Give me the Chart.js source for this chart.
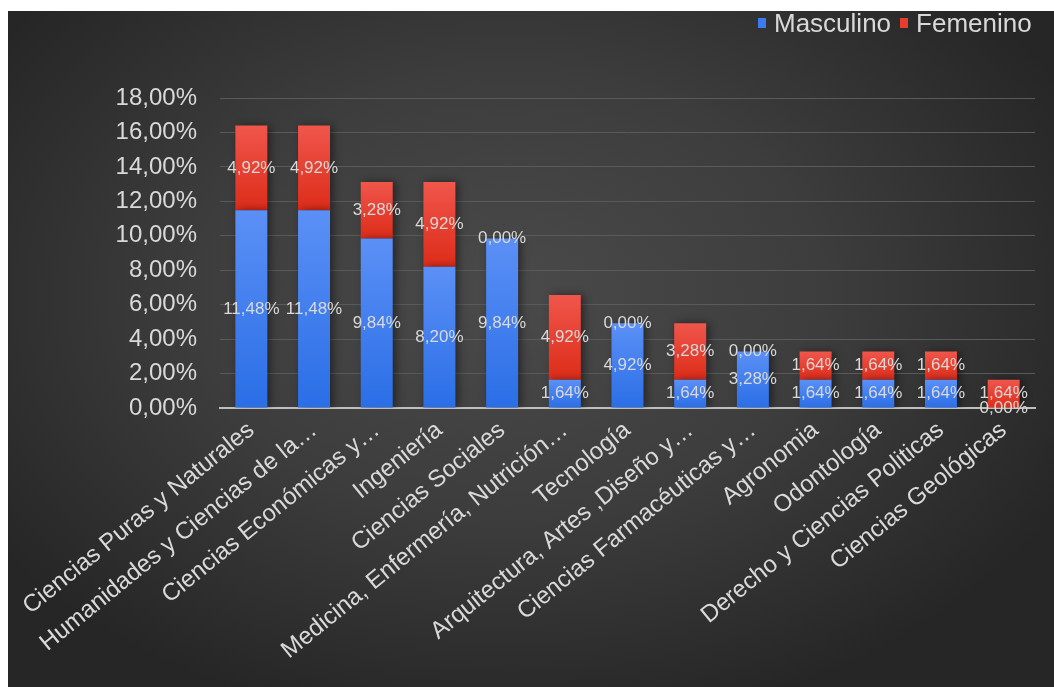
<!DOCTYPE html>
<html lang="es">
<head>
<meta charset="utf-8">
<title>Carreras por sexo</title>
<script src="https://cdn.jsdelivr.net/npm/chart.js@4/dist/chart.umd.min.js"></script>
<style>
  body { margin: 0; background: #fff; }
  #marco {
    position: absolute; left: 8px; top: 11px; width: 1046px; height: 676px;
    background: radial-gradient(ellipse 60% 65% at 48% 42%, #4a4a4a 0%, #3d3d3d 50%, #262626 100%);
    overflow: hidden;
  }
  #leyenda {
    position: absolute; left: 750px; top: 0; height: 24px;
    display: flex; align-items: center;
    font: 26px "Liberation Sans", Arial, sans-serif; color: #d9d9d9;
  }
  #leyenda span.item { display: flex; align-items: center; margin-right: 9px; }
  #leyenda i { display: inline-block; width: 8px; height: 10px; margin-right: 8px; }
</style>
</head>
<body>
<div id="marco">
  <canvas id="chart" width="1046" height="676"></canvas>
  <div id="leyenda"></div>
</div>
<script>
'use strict';

var categorias = [
    'Ciencias Puras y Naturales',
    'Humanidades y Ciencias de la…',
    'Ciencias Económicas y…',
    'Ingeniería',
    'Ciencias Sociales',
    'Medicina, Enfermería, Nutrición…',
    'Tecnología',
    'Arquitectura, Artes ,Diseño y…',
    'Ciencias Farmacéuticas y…',
    'Agronomia',
    'Odontología',
    'Derecho y Ciencias Politicas',
    'Ciencias Geológicas'
];
var masculino = [11.48, 11.48, 9.84, 8.20, 9.84, 1.64, 4.92, 1.64, 3.28, 1.64, 1.64, 1.64, 0.00];
var femenino  = [4.92, 4.92, 3.28, 4.92, 0.00, 4.92, 0.00, 3.28, 0.00, 1.64, 1.64, 1.64, 1.64];
var series = ['Masculino', 'Femenino'];

var colores = [
    { arriba: '#5b90f6', abajo: '#2a6ee6', plano: '#3a7cf0' },
    { arriba: '#f0564b', abajo: '#dd2c19', plano: '#e83c2c' }
];

function porcentaje(v) {
    return v.toFixed(2).replace('.', ',') + '%';
}

// degradado vertical para cada segmento de la barra apilada
function degradado(ctx) {
    var c = colores[ctx.datasetIndex];
    if (ctx.type !== 'data') return c.plano;
    var escala = ctx.chart.scales.y;
    if (!escala) return c.plano;
    var i = ctx.dataIndex;
    var inicio = ctx.datasetIndex === 0 ? 0 : masculino[i];
    var fin = inicio + (ctx.datasetIndex === 0 ? masculino[i] : femenino[i]);
    var y0 = escala.getPixelForValue(fin);
    var y1 = escala.getPixelForValue(inicio);
    if (!isFinite(y0) || !isFinite(y1) || y1 - y0 < 1) return c.plano;
    var g = ctx.chart.ctx.createLinearGradient(0, y0, 0, y1);
    g.addColorStop(0, c.arriba);
    g.addColorStop(1, c.abajo);
    return g;
}

var sombra = {
    id: 'sombra',
    beforeDatasetsDraw: function (chart) {
        var ctx = chart.ctx;
        ctx.save();
        ctx.shadowColor = 'rgba(0, 0, 0, 0.45)';
        ctx.shadowBlur = 8;
        ctx.shadowOffsetX = 3;
        ctx.shadowOffsetY = 0;
    },
    afterDatasetsDraw: function (chart) {
        chart.ctx.restore();
    }
};

var etiquetas = {
    id: 'etiquetas',
    afterDatasetsDraw: function (chart) {
        var ctx = chart.ctx;
        ctx.save();
        ctx.font = '17px "Liberation Sans", Arial, sans-serif';
        ctx.fillStyle = '#d9d9d9';
        ctx.textAlign = 'center';
        ctx.textBaseline = 'middle';
        chart.data.datasets.forEach(function (ds, di) {
            chart.getDatasetMeta(di).data.forEach(function (bar, i) {
                var p = bar.getProps(['x', 'y', 'base'], true);
                ctx.fillText(porcentaje(ds.data[i]), p.x, (p.y + p.base) / 2);
            });
        });
        ctx.restore();
    }
};

var leyenda = document.getElementById('leyenda');
series.forEach(function (nombre, i) {
    var item = document.createElement('span');
    item.className = 'item';
    item.innerHTML = '<i style="background:' + colores[i].plano + '"></i>' + nombre;
    leyenda.appendChild(item);
});

var data = {
    labels: categorias,
    datasets: [
        { label: series[0], data: masculino, backgroundColor: degradado },
        { label: series[1], data: femenino, backgroundColor: degradado }
    ]
};

var chart = new Chart(document.getElementById('chart').getContext('2d'), {
    type: 'bar',
    data: data,
    plugins: [sombra, etiquetas],
    options: {
        responsive: false,
        animation: false,
        devicePixelRatio: 1,
        barPercentage: 0.51,
        categoryPercentage: 1,
        layout: { padding: { left: 0, right: 19, top: 87, bottom: 0 } },
        plugins: {
            legend: { display: false },
            tooltip: { enabled: false }
        },
        scales: {
            x: {
                stacked: true,
                grid: { display: false },
                border: { color: '#bfbfbf', width: 2 },
                ticks: {
                    color: '#d9d9d9',
                    font: { family: '"Liberation Sans", Arial, sans-serif', size: 24 },
                    minRotation: 39,
                    maxRotation: 39,
                    autoSkip: false,
                    padding: 0
                },
                afterFit: function (scale) { scale.height = 279; }
            },
            y: {
                stacked: true,
                min: 0,
                max: 18,
                grid: { color: '#5a5a5a', drawTicks: false },
                border: { display: false },
                ticks: {
                    stepSize: 2,
                    color: '#d9d9d9',
                    padding: 23,
                    font: { family: '"Liberation Sans", Arial, sans-serif', size: 24 },
                    callback: function (v) { return porcentaje(v); }
                },
                afterFit: function (scale) { scale.width = 212; }
            }
        }
    }
});
</script>
</body>
</html>
